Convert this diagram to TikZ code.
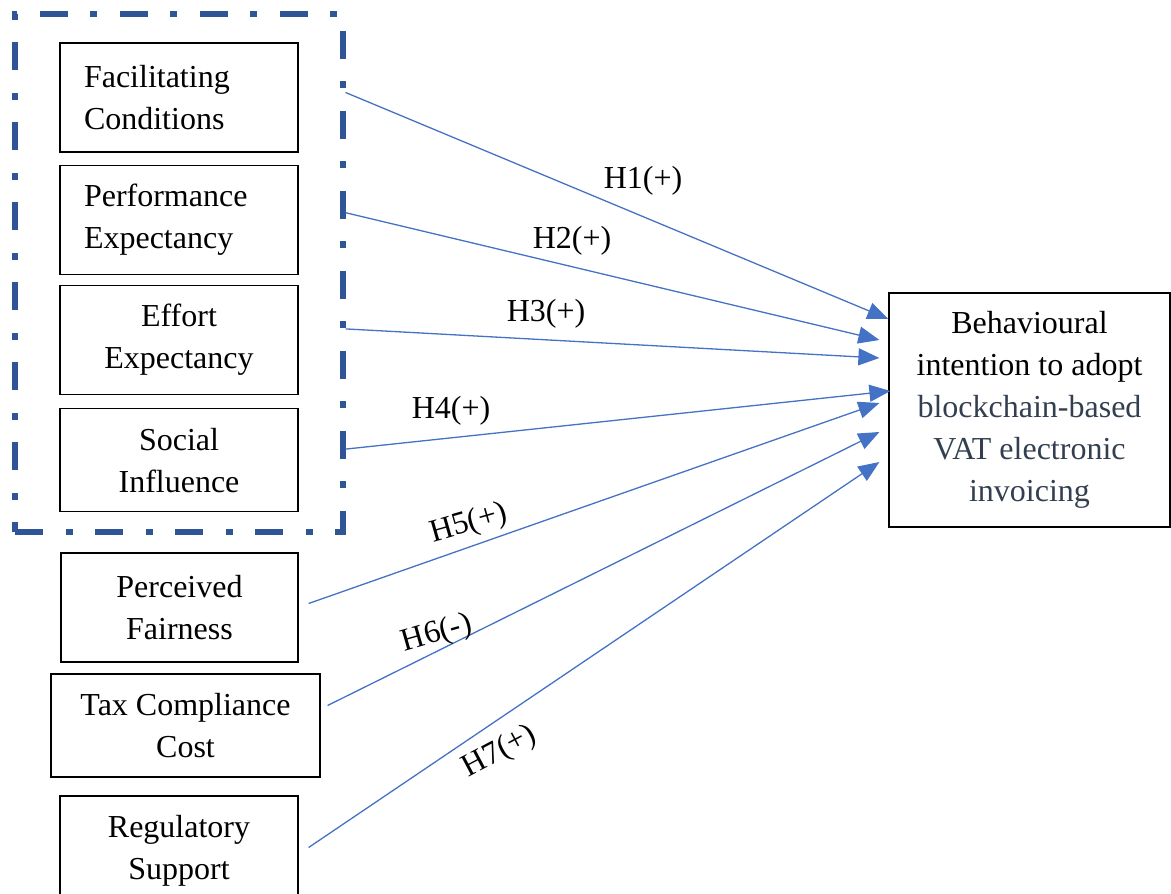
\documentclass[tikz,border=0pt]{standalone}
\usepackage{fontspec}
\setmainfont{Liberation Serif}
\usetikzlibrary{positioning,arrows.meta,fit}
\definecolor{colArrow}{RGB}{68,114,196}
\definecolor{colFrame}{RGB}{47,85,151}
\definecolor{colSlate}{RGB}{51,63,80}

\begin{document}
\begin{tikzpicture}[
    x=1pt, y=-1pt,
    every node/.style={font=\fontsize{32}{42}\selectfont, align=center},
    box/.style={draw, line width=1.2pt, minimum width=238pt, minimum height=109pt, inner sep=0pt},
    lbox/.style={box, text width=190pt, align=left, inner xsep=24pt},
    hyp/.style={-{Triangle[length=21pt,width=17pt]}, colArrow, line width=1.3pt},
    grpframe/.style={draw=colFrame, line width=6pt, dash pattern=on 28pt off 23pt on 7pt off 22pt, inner xsep=44pt, inner ysep=20pt},
    lbl/.style={inner sep=0pt}
]
    \useasboundingbox (0,0) rectangle (1171,894);

    % UTAUT constructs
    \node[lbox] (fc) at (179,97.5) {Facilitating\\Conditions};
    \node[lbox, below=12pt of fc] (pe) {Performance\\Expectancy};
    \node[box, below=10pt of pe] (ee) {Effort\\Expectancy};
    \node[box, below=13pt of ee, minimum height=103pt] (si) {Social\\Influence};
    \node[grpframe, fit={([yshift=8pt]fc.north west) (si.south east)}] (grp) {};

    % extra constructs
    \node[box, minimum width=237pt] (pf) at (179.5,607.5) {Perceived\\Fairness};
    \node[box, minimum width=269pt, minimum height=103pt] (tc) at (185.5,725.5) {Tax Compliance\\Cost};
    \node[box] (rs) at (179,850.5) {Regulatory\\Support};

    \node[box, minimum width=281pt, minimum height=234pt] (bi) at (1029.5,410)
        {Behavioural\\intention to adopt\\\textcolor{colSlate}{blockchain-based}\\\textcolor{colSlate}{VAT electronic}\\\textcolor{colSlate}{invoicing}};

    \draw[hyp] ([yshift=5pt]fc.east -| grp.east) -- ([yshift=91pt]bi.west);
    \draw[hyp] ([yshift=7pt]pe.east -| grp.east) -- ([xshift=-9pt,yshift=70pt]bi.west);
    \draw[hyp] ([yshift=11pt]ee.east -| grp.east) -- ([xshift=-9pt,yshift=52pt]bi.west);
    \draw[hyp] ([yshift=11pt]si.east -| grp.east) -- ([xshift=2pt,yshift=19pt]bi.west);
    \draw[hyp] ([xshift=10pt,yshift=4pt]pf.east) -- ([xshift=-9pt,yshift=7pt]bi.west);
    \draw[hyp] ([xshift=7pt,yshift=20pt]tc.east) -- ([xshift=-9pt,yshift=-22pt]bi.west);
    \draw[hyp] ([xshift=10pt,yshift=3pt]rs.east) -- ([xshift=-9pt,yshift=-52pt]bi.west);

    % hypothesis labels
    \node[lbl] (h1) at (643,181) {H1(+)};
    \node[lbl] (h2) at (572,241) {H2(+)};
    \node[lbl] (h3) at (546,314) {H3(+)};
    \node[lbl] (h4) at (451,411) {H4(+)};
    \node[lbl, rotate=16] (h5) at (469,524) {H5(+)};
    \node[lbl, rotate=16] (h6) at (437,634) {H6(-)};
    \node[lbl, rotate=28] (h7) at (500,752) {H7(+)};
\end{tikzpicture}
\end{document}
